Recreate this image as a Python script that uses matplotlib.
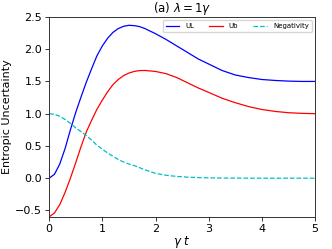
import matplotlib
matplotlib.use('Agg')
import matplotlib.pyplot as plt

# values
t = [0, 0.1, 0.2, 0.3, 0.4, 0.5, 0.6, 0.7, 0.8, 0.9, 1.0, 1.1, 1.2, 1.3, 1.4, 1.5,
     1.6, 1.7, 1.8, 2.0, 2.2, 2.4, 2.6, 2.8, 3.0, 3.25, 3.5, 3.75, 4.0, 4.25, 4.5, 4.75, 5.0]
ul = [0.0, 0.06, 0.22, 0.46, 0.75, 1.02, 1.26, 1.49, 1.70, 1.90, 2.05, 2.17, 2.26, 2.32, 2.355, 2.37,
      2.365, 2.35, 2.32, 2.24, 2.15, 2.05, 1.95, 1.85, 1.77, 1.67, 1.60, 1.56, 1.53, 1.515, 1.505, 1.50, 1.50]
ub = [-0.6, -0.54, -0.41, -0.22, 0.0, 0.24, 0.49, 0.72, 0.90, 1.07, 1.21, 1.34, 1.45, 1.53, 1.59, 1.63,
      1.655, 1.668, 1.67, 1.655, 1.62, 1.56, 1.48, 1.40, 1.33, 1.24, 1.17, 1.11, 1.065, 1.035, 1.015, 1.005, 1.0]
neg = [1.0, 0.99, 0.96, 0.91, 0.85, 0.78, 0.72, 0.66, 0.59, 0.51, 0.45, 0.39, 0.34, 0.29, 0.25, 0.22,
       0.195, 0.163, 0.13, 0.075, 0.045, 0.027, 0.016, 0.009, 0.005, 0.002, 0.001, 0.0, 0.0, 0.0, 0.0, 0.0, 0.0]

fig = plt.figure(figsize=(3.32, 2.49), dpi=100)
ax = fig.add_axes([0.148, 0.129, 0.801, 0.803])

ax.plot(t, ul, color='blue', lw=0.9, label='UL')
ax.plot(t, ub, color='red', lw=0.9, label='Ub')
ax.plot(t, neg, color='c', lw=0.9, ls='--', label='Negativity')

ax.set_xlim(0, 5)
ax.set_ylim(-0.6, 2.5)
ax.set_xticks([0, 1, 2, 3, 4, 5])
ax.set_yticks([-0.5, 0.0, 0.5, 1.0, 1.5, 2.0, 2.5])
ax.tick_params(labelsize=8, length=3, width=0.7, pad=2, color='#333333')
for s in ax.spines.values():
    s.set_linewidth(0.7)
    s.set_color('#333333')

ax.set_xlabel(r'$\gamma\ t$', fontsize=8.5, labelpad=0)
ax.set_ylabel('Entropic Uncertainty', fontsize=8, labelpad=2)
ax.set_title(r'(a) $\lambda=1\gamma$', fontsize=8.5, pad=2)

ax.legend(loc='upper right', ncol=3, fontsize=5, frameon=True, handlelength=2.0,
          borderpad=0.4, columnspacing=2.2, fancybox=True)

plt.savefig('out.png', dpi=100)
plt.close()
